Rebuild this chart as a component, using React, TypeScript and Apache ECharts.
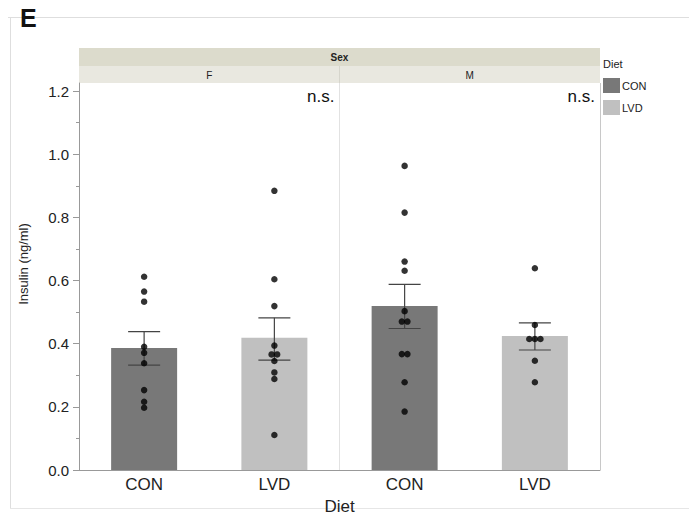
import React, { useEffect, useRef } from "react";
import * as echarts from "echarts";

const categories = ["CON", "LVD", "CON", "LVD"];
const sexLabels = ["F", "M"];
const barMeans = [0.386, 0.419, 0.519, 0.424];
const errLow = [0.332, 0.348, 0.448, 0.38];
const errHigh = [0.438, 0.482, 0.588, 0.466];
const fCon = [0.612, 0.565, 0.533, 0.39, 0.371, 0.338, 0.253, 0.216, 0.197];
const fLvd = [0.884, 0.604, 0.519, 0.394, 0.366, 0.366, 0.345, 0.309, 0.288, 0.111];
const mCon = [0.963, 0.815, 0.66, 0.631, 0.503, 0.47, 0.47, 0.367, 0.367, 0.278, 0.185];
const mLvd = [0.639, 0.459, 0.415, 0.415, 0.415, 0.346, 0.278];
const groups = [fCon, fLvd, mCon, mLvd];
const yTicks = [0, 0.2, 0.4, 0.6, 0.8, 1.0, 1.2];
const yMinorTicks = [0.1, 0.3, 0.5, 0.7, 0.9, 1.1];
const dietColors = { CON: "#787878", LVD: "#c0c0c0" };
const sigLabels = ["n.s.", "n.s."];

const W = 689;
const H = 515;
const G = { left: 79, right: 89, top: 83, bottom: 45 };
const FONT = "'Liberation Sans', Arial, Helvetica, sans-serif";

function jitter(vals: number[], step: number): number[][] {
  const res: number[][] = [];
  const counts: Record<string, number> = {};
  vals.forEach((v) => {
    counts[v] = (counts[v] || 0) + 1;
  });
  const seen: Record<string, number> = {};
  vals.forEach((v) => {
    const n = counts[v];
    const k = seen[v] || 0;
    seen[v] = k + 1;
    res.push([(k - (n - 1) / 2) * step, v]);
  });
  return res;
}

export default function App() {
  const ref = useRef<HTMLDivElement>(null);
  useEffect(() => {
    if (!ref.current) return;
    const chart = echarts.init(ref.current, null, { renderer: "svg" });
    const plotW = W - G.left - G.right;
    const plotH = H - G.top - G.bottom;
    const panelW = plotW / 2;
    const midX = G.left + panelW;

    const scatterData: number[][] = [];
    groups.forEach((g, i) => {
      jitter(g, 0.043).forEach(([dx, v]) => scatterData.push([i + 0.5 + dx, v]));
    });

    const graphics: any[] = [
      // outer frame
      { type: "line", shape: { x1: 8, y1: 17.5, x2: W, y2: 17.5 }, style: { stroke: "#dedede", lineWidth: 1 } },
      { type: "line", shape: { x1: 10.5, y1: 17, x2: 10.5, y2: 508 }, style: { stroke: "#dedede", lineWidth: 1 } },
      { type: "line", shape: { x1: 10, y1: 508.5, x2: W, y2: 508.5 }, style: { stroke: "#e6e6e6", lineWidth: 1 } },
      {
        type: "text",
        left: 20,
        top: 5,
        style: { text: "E", font: `bold 25px ${FONT}`, fill: "#111" },
      },
      // strip
      { type: "rect", shape: { x: G.left, y: 48, width: plotW, height: 18 }, style: { fill: "#dcdbcc" } },
      { type: "rect", shape: { x: G.left, y: 66, width: plotW, height: 17 }, style: { fill: "#e9e8e0" } },
      { type: "line", shape: { x1: midX, y1: 66, x2: midX, y2: 83 }, style: { stroke: "#d6d5cc", lineWidth: 1 } },
      {
        type: "text",
        x: G.left + plotW / 2,
        y: 57.5,
        style: { text: "Sex", font: `bold 10px ${FONT}`, fill: "#222", align: "center", verticalAlign: "middle" },
      },
      ...sexLabels.map((s, i) => ({
        type: "text",
        x: G.left + panelW * (i + 0.5),
        y: 75,
        style: { text: s, font: `10px ${FONT}`, fill: "#222", align: "center", verticalAlign: "middle" },
      })),
      // panel divider and right border
      { type: "line", shape: { x1: midX, y1: G.top, x2: midX, y2: H - G.bottom }, style: { stroke: "#e2e2e2", lineWidth: 1 } },
      { type: "line", shape: { x1: W - G.right + 0.5, y1: G.top, x2: W - G.right + 0.5, y2: H - G.bottom }, style: { stroke: "#c8c8c8", lineWidth: 1 } },
      // n.s.
      ...sigLabels.map((s, i) => ({
        type: "text",
        x: G.left + panelW * (i + 1) - 5,
        y: 96,
        style: { text: s, font: `17px ${FONT}`, fill: "#111", align: "right", verticalAlign: "middle" },
      })),
      // y name
      {
        type: "text",
        x: 23,
        y: 264,
        rotation: Math.PI / 2,
        style: { text: "Insulin (ng/ml)", font: `13px ${FONT}`, fill: "#222", align: "center", verticalAlign: "middle" },
      },
      // legend
      {
        type: "text",
        x: 603,
        y: 64,
        style: { text: "Diet", font: `11px ${FONT}`, fill: "#222", align: "left", verticalAlign: "middle" },
      },
      ...Object.keys(dietColors).map((k, i) => ({
        type: "group",
        children: [
          { type: "rect", shape: { x: 603, y: 78 + i * 22, width: 17, height: 15 }, style: { fill: (dietColors as any)[k] } },
          {
            type: "text",
            x: 622,
            y: 86 + i * 22,
            style: { text: k, font: `11px ${FONT}`, fill: "#222", align: "left", verticalAlign: "middle" },
          },
        ],
      })),
    ];

    chart.setOption({
      animation: false,
      grid: {
        left: G.left,
        right: G.right,
        top: G.top,
        bottom: G.bottom,
        containLabel: false,
        outerBoundsMode: "none",
      },
      xAxis: [
        {
          type: "category",
          data: categories,
          boundaryGap: true,
          axisLine: { lineStyle: { color: "#999", width: 1 } },
          axisTick: { show: false },
          axisLabel: { fontSize: 17, color: "#222", fontFamily: FONT, margin: 6 },
          name: "Diet",
          nameLocation: "middle",
          nameGap: 28,
          nameTextStyle: { fontSize: 17, color: "#222", fontFamily: FONT },
          splitLine: { show: false },
        },
        { type: "value", min: 0, max: 4, show: false },
      ],
      yAxis: [
        {
          type: "value",
          min: 0,
          max: plotH / 315.8,
          axisLine: { show: true, lineStyle: { color: "#999", width: 1 } },
          axisTick: { show: true, length: 6, lineStyle: { color: "#999" }, customValues: yTicks },
          axisLabel: {
            fontSize: 15,
            color: "#222",
            fontFamily: FONT,
            margin: 10,
            customValues: yTicks,
            formatter: (v: number) => v.toFixed(1),
          },
          splitLine: { show: false },
        },
        {
          type: "value",
          min: 0,
          max: plotH / 315.8,
          position: "left",
          axisLine: { show: false },
          axisTick: { show: true, length: 3, lineStyle: { color: "#999" }, customValues: yMinorTicks },
          axisLabel: { show: false },
          splitLine: { show: false },
        },
      ],
      series: [
        {
          type: "bar",
          xAxisIndex: 0,
          yAxisIndex: 0,
          barWidth: 66,
          data: barMeans.map((v, i) => ({
            value: v,
            itemStyle: { color: (dietColors as any)[categories[i]] },
          })),
          z: 1,
        },
        {
          type: "custom",
          xAxisIndex: 0,
          yAxisIndex: 0,
          data: barMeans.map((_, i) => [i, errLow[i], errHigh[i]]),
          renderItem: (params: any, api: any) => {
            const i = api.value(0);
            const lo = api.coord([i, api.value(1)]);
            const hi = api.coord([i, api.value(2)]);
            const hw = 16;
            const style = { stroke: "#444", lineWidth: 1.2 };
            return {
              type: "group",
              children: [
                { type: "line", shape: { x1: lo[0], y1: lo[1], x2: hi[0], y2: hi[1] }, style },
                { type: "line", shape: { x1: lo[0] - hw, y1: lo[1], x2: lo[0] + hw, y2: lo[1] }, style },
                { type: "line", shape: { x1: hi[0] - hw, y1: hi[1], x2: hi[0] + hw, y2: hi[1] }, style },
              ],
            };
          },
          z: 2,
        },
        {
          type: "scatter",
          xAxisIndex: 1,
          yAxisIndex: 0,
          data: scatterData,
          symbol: "circle",
          symbolSize: 6.5,
          itemStyle: { color: "#000" },
          z: 3,
        },
      ],
      graphic: graphics,
    });
    return () => chart.dispose();
  }, []);
  return (
    <div
      ref={ref}
      style={{ position: "fixed", left: 0, top: 0, width: W, height: H, background: "#fff" }}
    />
  );
}
